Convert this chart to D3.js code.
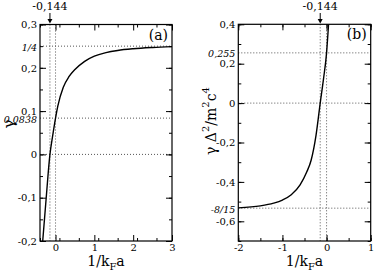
<!DOCTYPE html>
<html><head><meta charset="utf-8">
<script src="https://cdn.jsdelivr.net/npm/d3@7"></script>
<style>
body{margin:0;background:#fff;}
svg{display:block;}
</style></head>
<body><svg id="c" width="374" height="276"></svg>
<script>
// Panel (a): gamma vs 1/kFa
const gammaX = [-0.33,-0.24,-0.144,-0.07,0,0.06,0.2,0.35,0.5,0.75,1.0,1.3,1.6,2.0,2.5,3.0];
const gammaY = [-0.2,-0.1,0,0.045,0.0838,0.112,0.155,0.18,0.196,0.215,0.227,0.235,0.240,0.244,0.247,0.249];
const aXTicks = [0,1,2,3];
const aYTicks = [-0.2,-0.1,0,0.1,0.2,0.3];
const aHLines = [0.25,0.0838,0];
const aHLabels = ["1/4","0,0838",null];
const aVLines = [-0.144,0];

// Panel (b): gamma Delta^2/m^2c^4 vs 1/kFa
const deltaX = [-2,-1.5,-1.2,-1.0,-0.8,-0.6,-0.45,-0.35,-0.24,-0.144,-0.07,0,0.045];
const deltaY = [-0.532,-0.522,-0.508,-0.492,-0.465,-0.415,-0.35,-0.29,-0.165,0,0.122,0.255,0.4];
const bXTicks = [-2,-1,0,1];
const bYTicks = [-0.6,-0.4,-0.2,0,0.2,0.4];
const bHLines = [0.255,0,-8/15];
const bHLabels = ["0,255",null,"-8/15"];
const bVLines = [-0.144,0];

const svg = d3.select("#c");
const FF = "'DejaVu Serif', serif";
const fmt = v => (Math.abs(v)<1e-9? "0" : String(+v.toFixed(3))).replace(".",",");

function panel(o){
  const x = d3.scaleLinear().domain(o.xd).range([o.x0,o.x1]);
  const y = d3.scaleLinear().domain(o.yd).range([o.y1,o.y0]);
  const g = svg.append("g").attr("font-family",FF);
  o.hl.forEach(v=>g.append("line").attr("x1",o.x0).attr("x2",o.x1).attr("y1",y(v)).attr("y2",y(v))
     .attr("stroke","#555").attr("stroke-width",1).attr("stroke-dasharray","1,2"));
  o.vl.forEach(v=>g.append("line").attr("x1",x(v)).attr("x2",x(v)).attr("y1",o.y0).attr("y2",o.y1)
     .attr("stroke","#555").attr("stroke-width",1).attr("stroke-dasharray","1,2"));
  const cid="clip"+o.name;
  svg.append("clipPath").attr("id",cid).append("rect").attr("x",o.x0).attr("y",o.y0).attr("width",o.x1-o.x0).attr("height",o.y1-o.y0);
  const pts = o.cx.map((v,i)=>[v,o.cy[i]]);
  g.append("path").attr("clip-path","url(#"+cid+")").attr("d",d3.line().x(d=>x(d[0])).y(d=>y(d[1])).curve(d3.curveMonotoneX)(pts))
   .attr("fill","none").attr("stroke","#000").attr("stroke-width",1.4);
  const xMinor = d3.range(o.xd[0],o.xd[1]+1e-9,o.xm);
  const yMinor = d3.range(o.yd[0],o.yd[1]+1e-9,o.ym);
  const style = s=>{s.attr("font-family",FF).attr("font-size",10); s.select(".domain").remove(); s.selectAll("line").attr("stroke","#000"); s.selectAll("text").attr("fill","#000");};
  g.append("g").attr("transform",`translate(0,${o.y1})`).call(d3.axisBottom(x).tickValues(xMinor).tickSize(-3).tickFormat("")).call(style);
  g.append("g").attr("transform",`translate(0,${o.y1})`).call(d3.axisBottom(x).tickValues(o.xt).tickSize(-6).tickPadding(3).tickFormat(fmt)).call(style);
  g.append("g").attr("transform",`translate(0,${o.y0})`).call(d3.axisTop(x).tickValues(xMinor).tickSize(-3).tickFormat("")).call(style);
  g.append("g").attr("transform",`translate(0,${o.y0})`).call(d3.axisTop(x).tickValues(o.xt).tickSize(-6).tickFormat("")).call(style);
  g.append("g").attr("transform",`translate(${o.x0},0)`).call(d3.axisLeft(y).tickValues(yMinor).tickSize(-3).tickFormat("")).call(style);
  g.append("g").attr("transform",`translate(${o.x0},0)`).call(d3.axisLeft(y).tickValues(o.yt).tickSize(-6).tickPadding(3).tickFormat(fmt)).call(style);
  g.append("g").attr("transform",`translate(${o.x1},0)`).call(d3.axisRight(y).tickValues(yMinor).tickSize(-3).tickFormat("")).call(style);
  g.append("g").attr("transform",`translate(${o.x1},0)`).call(d3.axisRight(y).tickValues(o.yt).tickSize(-6).tickFormat("")).call(style);
  g.append("rect").attr("x",o.x0).attr("y",o.y0).attr("width",o.x1-o.x0).attr("height",o.y1-o.y0)
   .attr("fill","none").attr("stroke","#000").attr("stroke-width",1.2);
  o.hl.forEach((v,i)=>{ if(o.hlab[i]) g.append("text").attr("x",o.x0-3).attr("y",y(v)+4.5).attr("text-anchor","end")
     .attr("font-style","italic").attr("font-size",9.5).text(o.hlab[i]); });
  const ax = x(-0.144);
  g.append("text").attr("x",ax).attr("y",10).attr("text-anchor","middle").attr("font-size",11).text("-0,144");
  g.append("line").attr("x1",ax).attr("x2",ax).attr("y1",13).attr("y2",20).attr("stroke","#000").attr("stroke-width",1);
  g.append("path").attr("d",`M${ax-2.5},${19}L${ax+2.5},${19}L${ax},${23.5}Z`).attr("fill","#000");
  g.append("text").attr("x",o.x1-4).attr("y",o.y0+15).attr("text-anchor","end").attr("font-size",14).text(o.tag);
  const xl = g.append("text").attr("x",(o.x0+o.x1)/2).attr("y",266).attr("text-anchor","middle").attr("font-size",14);
  xl.append("tspan").text("1/k");
  xl.append("tspan").attr("dy",4).attr("font-size",10).text("F");
  xl.append("tspan").attr("dy",-4).text("a");
  return {x,y};
}

panel({name:"a",xd:[-0.4,3],yd:[-0.2,0.3],x0:40,x1:172,y0:24.5,y1:241,xt:aXTicks,yt:aYTicks,xm:0.5,ym:0.05,
  cx:gammaX,cy:gammaY,hl:aHLines,hlab:aHLabels,vl:aVLines,tag:"(a)"});
panel({name:"b",xd:[-2,1],yd:[-0.7,0.4],x0:238.3,x1:370.7,y0:24.3,y1:241,xt:bXTicks,yt:bYTicks,xm:0.5,ym:0.1,
  cx:deltaX,cy:deltaY,hl:bHLines,hlab:bHLabels,vl:bVLines,tag:"(b)"});

svg.append("text").attr("font-family",FF).attr("transform","translate(14,124) rotate(-90)").attr("text-anchor","middle").attr("font-size",15).text("γ");
const yl = svg.append("text").attr("font-family",FF).attr("transform","translate(216,121) rotate(-90)").attr("text-anchor","middle").attr("font-size",14);
yl.append("tspan").text("γ Δ");
yl.append("tspan").attr("dy",-7).attr("font-size",10).text("2");
yl.append("tspan").attr("dy",7).text("/m");
yl.append("tspan").attr("dy",-7).attr("font-size",10).text("2");
yl.append("tspan").attr("dy",7).text("c");
yl.append("tspan").attr("dy",-7).attr("font-size",10).text("4");
</script></body></html>
